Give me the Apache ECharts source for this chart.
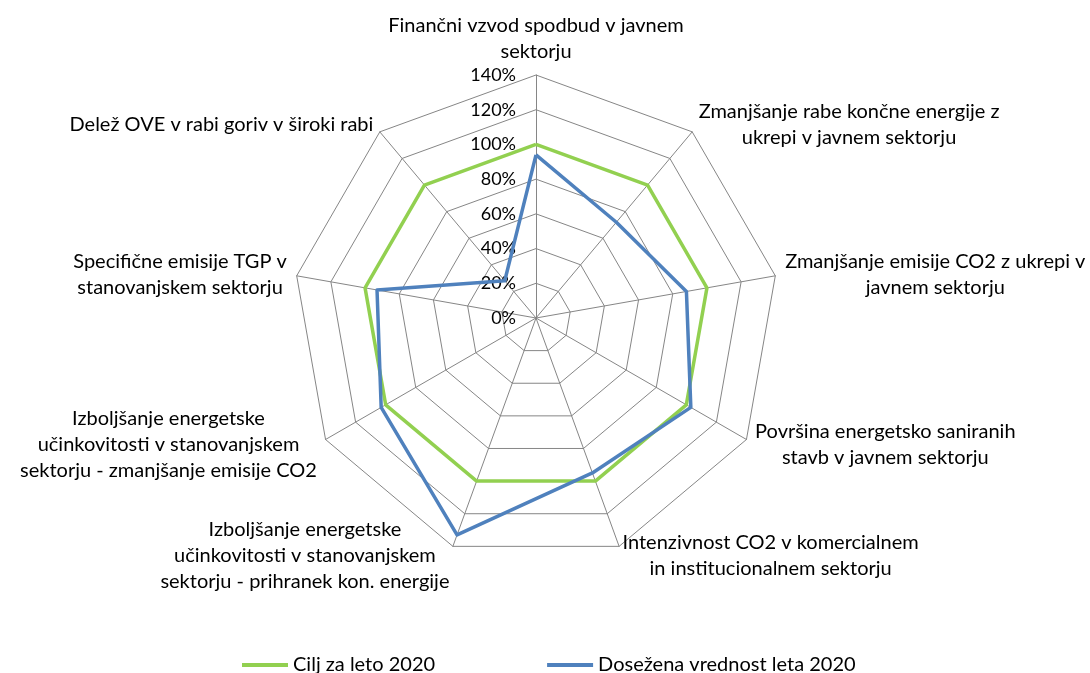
<!DOCTYPE html>
<html>
<head>
<meta charset="utf-8">
<script src="https://cdn.jsdelivr.net/npm/echarts@6/dist/echarts.min.js"></script>
<style>
    html, body { margin: 0; padding: 0; background: #fff; }
    #radar { width: 1090px; height: 673px; }
</style>
</head>
<body>
<div id="radar"></div>
<script>
// kazalniki, v smeri urinega kazalca od vrha
var categories = [
    'Finančni vzvod spodbud v javnem\nsektorju',
    'Zmanjšanje rabe končne energije z\nukrepi v javnem sektorju',
    'Zmanjšanje emisije CO2 z ukrepi v\njavnem sektorju',
    'Površina energetsko saniranih\nstavb v javnem sektorju',
    'Intenzivnost CO2 v komercialnem\nin institucionalnem sektorju',
    'Izboljšanje energetske\nučinkovitosti v stanovanjskem\nsektorju - prihranek kon. energije',
    'Izboljšanje energetske\nučinkovitosti v stanovanjskem\nsektorju - zmanjšanje emisije CO2',
    'Specifične emisije TGP v\nstanovanjskem sektorju',
    'Delež OVE v rabi goriv v široki rabi'
];
var cilj2020 = [100, 100, 100, 100, 100, 100, 100, 100, 100];
var dosezeno2020 = [94, 72, 88, 103, 95, 133, 103, 93, 28];
var seriesNames = ['Cilj za leto 2020', 'Dosežena vrednost leta 2020'];
var axisMax = 140;

(function() {
    var font = 'Lato, "Open Sans", sans-serif';
    // echarts riše kazalnike v nasprotni smeri, zato obrnemo vrstni red
    function clockwise(arr) {
        return [arr[0]].concat(arr.slice(1).reverse());
    }
    var indicator = clockwise(categories).map(function(name, i) {
        return {
            name: name,
            min: 0,
            max: axisMax,
            axisLabel: { show: i === 0 }
        };
    });

    var myChart = echarts.init(document.getElementById('radar'));
    var option = {
        backgroundColor: '#fff',
        color: ['#92D050', '#4F81BD'],
        legend: {
            top: 650,
            left: 237,
            itemGap: 112,
            itemWidth: 46,
            itemHeight: 4,
            icon: 'rect',
            textStyle: { fontFamily: font, fontSize: 20, color: '#000' },
            data: seriesNames
        },
        radar: {
            center: [536, 318],
            radius: 243,
            startAngle: 90,
            splitNumber: 7,
            shape: 'polygon',
            indicator: indicator,
            axisName: {
                color: '#000',
                fontFamily: font,
                fontSize: 20,
                lineHeight: 26,
                formatter: function(name) {
                    return name.split('\n').map(function(l) { return '{c|' + l + '}'; }).join('\n');
                },
                rich: { c: { align: 'center', fontFamily: font, fontSize: 20, lineHeight: 26, color: '#000' } }
            },
            nameGap: 10,
            axisLine: { lineStyle: { color: '#868686', width: 1 } },
            splitLine: { lineStyle: { color: '#868686', width: 1 } },
            splitArea: { show: false },
            axisTick: { show: false },
            axisLabel: {
                show: true,
                margin: 20,
                formatter: '{value}%',
                color: '#000',
                fontFamily: font,
                fontSize: 18
            }
        },
        series: [{
            type: 'radar',
            symbol: 'none',
            lineStyle: { width: 3.5 },
            data: [
                { name: seriesNames[0], value: clockwise(cilj2020), lineStyle: { color: '#92D050' }, itemStyle: { color: '#92D050' } },
                { name: seriesNames[1], value: clockwise(dosezeno2020), lineStyle: { color: '#4F81BD' }, itemStyle: { color: '#4F81BD' } }
            ]
        }]
    };
    myChart.setOption(option);
})();
</script>
</body>
</html>
